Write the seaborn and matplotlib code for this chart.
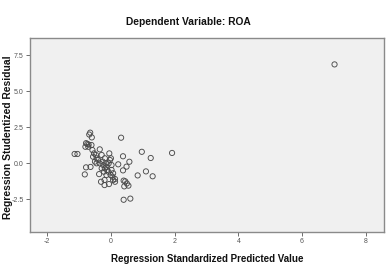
import matplotlib
matplotlib.use("Agg")
import matplotlib.pyplot as plt
import seaborn as sns
import pandas as pd

predicted = [
    -0.65, -0.60, -0.78, -0.74, -0.70, -1.14, -1.05, 0.32, 0.97, 1.92,
    1.25, 0.38, 0.58, 0.23, 0.49, 0.38, 1.10, 0.84, 1.31, 0.40,
    0.45, 0.50, 0.55, 0.42, 0.40, 0.61, -0.82, -0.78, -0.64, -0.37,
    -0.80, -0.68, -0.71, -0.61, -0.58, -0.53, -0.56, -0.47, -0.45, -0.40,
    -0.35, -0.29, -0.35, -0.26, -0.24, -0.19, -0.16, -0.14, -0.12, -0.05,
    -0.03, -0.08, 0.00, 0.02, 0.02, -0.01, 0.05, 0.07, 0.13, 0.13,
    -0.07, -0.29, -0.45, -0.50, -0.19, -0.22, -0.14, -0.31, -0.20, -0.06,
    -0.20, 0.07, 7.02,
]
residual = [
    2.13, 1.80, 1.40, 1.35, 1.30, 0.65, 0.65, 1.78, 0.80, 0.72,
    0.37, 0.49, 0.11, -0.07, -0.23, -0.49, -0.56, -0.84, -0.90, -1.20,
    -1.25, -1.40, -1.55, -1.60, -2.53, -2.45, -0.77, -0.28, -0.25, -0.75,
    1.15, 2.00, 1.15, 1.27, 0.92, 0.69, 0.46, 0.58, 0.35, 0.23,
    0.97, 0.58, 0.00, 0.12, -0.12, 0.35, 0.00, -0.23, -0.46, 0.69,
    0.23, -0.58, 0.35, -0.12, -0.46, -0.81, -0.93, -0.69, -1.09, -1.28,
    0.00, -0.35, 0.00, 0.12, -0.35, -0.58, -0.81, -1.28, -1.16, -1.44,
    -1.51, -1.16, 6.87,
]
x_ticks = [-2, 0, 2, 4, 6, 8]
y_ticks = [-2.5, 0.0, 2.5, 5.0, 7.5]

df = pd.DataFrame({"pred": predicted, "resid": residual})

sns.set_style("white")
plt.rcParams["font.family"] = ["Liberation Sans", "DejaVu Sans"]

fig = plt.figure(figsize=(3.87, 2.68), dpi=100)
ax = fig.add_axes([0.0775, 0.1343, 0.9145, 0.7237])
ax.set_facecolor("#f0f0f0")

sns.scatterplot(data=df, x="pred", y="resid", ax=ax, marker="o",
                facecolor="none", edgecolor="#4a4a4a", s=14, linewidth=0.65)

ax.set_xlim(-2.54, 8.57)
ax.set_ylim(-4.77, 8.7)
ax.set_xticks(x_ticks)
ax.set_xticklabels([str(t) for t in x_ticks])
ax.set_yticks(y_ticks)
ax.set_yticklabels([f"{t:.1f}" for t in y_ticks])
ax.tick_params(axis="both", labelsize=5, colors="#555555", length=3, width=0.6,
               direction="out", pad=1.5, bottom=True, left=True)

for sp in ax.spines.values():
    sp.set_color("#8a8a8a")
    sp.set_linewidth(1.0)

ax.set_xlabel("Regression Standardized Predicted Value", fontsize=7,
              fontweight="bold", labelpad=6, color="#111111")
ax.set_ylabel("Regression Studentized Residual", fontsize=7.4,
              fontweight="bold", color="#111111")
ax.yaxis.set_label_coords(-0.048, 0.487)
fig.text(0.487, 0.918, "Dependent Variable: ROA", ha="center", va="center",
         fontsize=7.4, fontweight="bold", color="#111111")

fig.savefig("out.png", dpi=100, facecolor="white")
